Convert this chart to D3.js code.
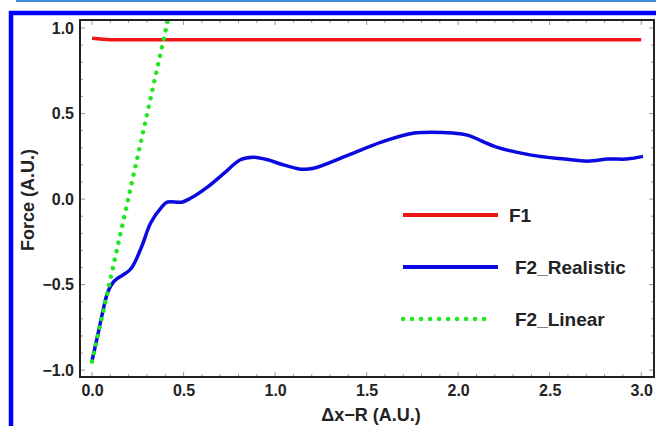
<!DOCTYPE html>
<html>
<head>
<meta charset="utf-8">
<script src="https://cdn.jsdelivr.net/npm/d3@7"></script>
<style>
  body { margin: 0; background: #fff; }
  svg { display: block; font-family: 'Liberation Sans', Arial, sans-serif; font-weight: bold; }
</style>
</head>
<body>
<svg id="chart" width="656" height="426"></svg>
<script>
// data
var f1X = [0, 0.1, 3.0]
var f1Y = [0.94, 0.932, 0.932]

var realX = [0, 0.005, 0.03, 0.06, 0.087, 0.12, 0.21, 0.27, 0.32, 0.38, 0.41, 0.49, 0.54, 0.63, 0.72, 0.81, 0.88, 0.96, 1.03, 1.14, 1.21, 1.40, 1.58, 1.76, 1.81, 1.97, 2.05, 2.21, 2.40, 2.58, 2.71, 2.82, 2.92, 3.01]
var realY = [-0.94, -0.92, -0.80, -0.65, -0.54, -0.48, -0.41, -0.28, -0.14, -0.047, -0.018, -0.018, 0.006, 0.07, 0.15, 0.23, 0.245, 0.23, 0.205, 0.175, 0.18, 0.257, 0.333, 0.386, 0.39, 0.386, 0.374, 0.304, 0.257, 0.234, 0.222, 0.234, 0.234, 0.25]

var linX = [0, 0.44]
var linY = [-0.95, 1.17]

var xTicks = [0, 0.5, 1.0, 1.5, 2.0, 2.5, 3.0]
var yTicks = [-1.0, -0.5, 0, 0.5, 1.0]
var legendNames = ['F1', 'F2_Realistic', 'F2_Linear']

var margin = { top: 20, right: 2, bottom: 49, left: 80 }
var width = 656 - margin.left - margin.right
var height = 426 - margin.top - margin.bottom

var svg = d3.select('#chart')

// page decoration: thin line on top and the blue frame
svg.append('line')
    .attr('x1', 16).attr('x2', 656).attr('y1', 1).attr('y2', 1)
    .attr('stroke', '#3f8ad2').attr('stroke-width', 2)
svg.append('rect')
    .attr('x', 11).attr('y', 13).attr('width', 700).attr('height', 500)
    .attr('fill', 'none').attr('stroke', '#0000ff').attr('stroke-width', 4.5)

var g = svg.append('g')
    .attr('transform', 'translate(' + margin.left + ',' + margin.top + ')')

var x = d3.scaleLinear().domain([-0.066, 3.07]).range([0, width])
var y = d3.scaleLinear().domain([-1.04, 1.047]).range([height, 0])

var fmt = d => d3.format('.1f')(d).replace('-', '\u2212')

// minor / major ticks inside the frame
var minorX = d3.range(0, 3.05, 0.1)
var minorY = d3.range(-1.0, 1.05, 0.1)
var tickG = g.append('g').attr('stroke', '#999').attr('stroke-width', 1)
minorX.forEach(v => {
  var major = Math.abs(v * 2 - Math.round(v * 2)) < 1e-6
  var len = major ? 5 : 3
  tickG.append('line').attr('x1', x(v)).attr('x2', x(v)).attr('y1', height).attr('y2', height - len)
  tickG.append('line').attr('x1', x(v)).attr('x2', x(v)).attr('y1', 0).attr('y2', len)
})
minorY.forEach(v => {
  var major = Math.abs(v * 2 - Math.round(v * 2)) < 1e-6
  var len = major ? 5 : 3
  tickG.append('line').attr('y1', y(v)).attr('y2', y(v)).attr('x1', 0).attr('x2', len)
  tickG.append('line').attr('y1', y(v)).attr('y2', y(v)).attr('x1', width).attr('x2', width - len)
})

var xAxis = d3.axisBottom(x).tickValues(xTicks).tickFormat(fmt).tickSize(0).tickPadding(8)
var yAxis = d3.axisLeft(y).tickValues(yTicks).tickFormat(fmt).tickSize(0).tickPadding(6)

g.append('g')
    .attr('transform', 'translate(0,' + height + ')')
    .call(xAxis)
    .call(a => a.select('.domain').remove())
    .selectAll('text').attr('font-size', 16).attr('fill', '#222')
g.append('g')
    .call(yAxis)
    .call(a => a.select('.domain').remove())
    .selectAll('text').attr('font-size', 16).attr('fill', '#222')

// clip for curves
svg.append('defs').append('clipPath').attr('id', 'plot')
  .append('rect').attr('width', width).attr('height', height)

var line = d3.line().x(d => x(d[0])).y(d => y(d[1]))
var curves = g.append('g').attr('clip-path', 'url(#plot)')

curves.append('path')
    .datum(d3.zip(f1X, f1Y))
    .attr('d', line.curve(d3.curveMonotoneX))
    .attr('fill', 'none').attr('stroke', '#ee1515').attr('stroke-width', 3.5)

curves.append('path')
    .datum(d3.zip(realX, realY))
    .attr('d', line.curve(d3.curveCatmullRom.alpha(0.5)))
    .attr('fill', 'none').attr('stroke', '#0a0ae0').attr('stroke-width', 3.5)
    .attr('stroke-linejoin', 'round')

curves.append('path')
    .datum(d3.zip(linX, linY))
    .attr('d', line.curve(d3.curveLinear))
    .attr('fill', 'none').attr('stroke', '#22e622').attr('stroke-width', 4.5)
    .attr('stroke-linecap', 'round').attr('stroke-dasharray', '0.1 8.6')

// frame
g.append('rect')
    .attr('width', width).attr('height', height)
    .attr('fill', 'none').attr('stroke', '#222').attr('stroke-width', 2)

// axis titles
g.append('text')
    .attr('x', 371 - margin.left).attr('y', height + 44)
    .attr('text-anchor', 'middle').attr('font-size', 18).attr('fill', '#222')
    .text('\u0394x\u2212R (A.U.)')
g.append('text')
    .attr('transform', 'translate(' + (28 - margin.left) + ',' + (200 - margin.top) + ') rotate(-90)')
    .attr('text-anchor', 'middle').attr('dy', '0.35em').attr('font-size', 18).attr('fill', '#222')
    .text('Force (A.U.)')

// legend
var legendColors = ['#ee1515', '#0a0ae0', '#22e622']
var legend = svg.append('g')
legendNames.forEach((name, i) => {
  var ly = 215 + i * 52
  var l = legend.append('line')
      .attr('x1', 403).attr('x2', i === 2 ? 490 : 498).attr('y1', ly).attr('y2', ly)
      .attr('stroke', legendColors[i])
  if (i === 2) {
    l.attr('stroke-width', 4.5).attr('stroke-linecap', 'round').attr('stroke-dasharray', '0.1 8.9')
  } else {
    l.attr('stroke-width', 4)
  }
  legend.append('text')
      .attr('x', i === 0 ? 509 : 515).attr('y', ly).attr('dy', '0.36em')
      .attr('font-size', 19).attr('fill', '#222')
      .text(name)
})
</script>
</body>
</html>
